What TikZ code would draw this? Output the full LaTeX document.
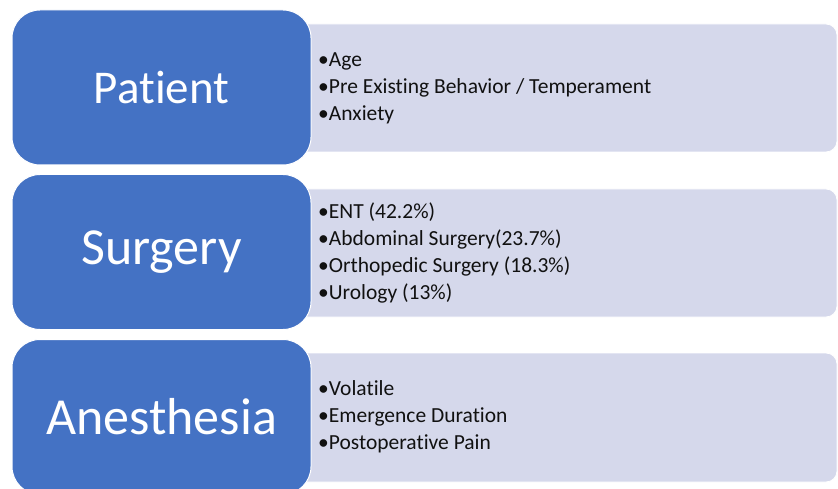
\documentclass[tikz,border=0pt]{standalone}
\usepackage{fontspec}
\setmainfont{Carlito}[Ligatures=NoCommon]
\definecolor{bluefill}{HTML}{4472C4}
\definecolor{lightfill}{HTML}{D5D8EB}
\definecolor{txt}{HTML}{111111}
\begin{document}
\begin{tikzpicture}[x=1pt,y=-1pt,
  bluebox/.style={fill=bluefill,draw=white,line width=1pt,rounded corners=28pt,
    minimum width=299pt,minimum height=155pt,inner sep=0pt,text=white,
    font=\fontsize{52}{58}\selectfont},
  lightbox/.style={fill=lightfill,draw=white,line width=0.8pt,rounded corners=11pt},
  bullets/.style={anchor=west,align=left,text=txt,inner sep=0pt,
    font=\fontsize{21.5}{27}\selectfont}
]
\useasboundingbox (0,0) rectangle (838,489);
% light boxes
\path[lightbox] (250,24) rectangle (837,152);
\path[lightbox] (250,189) rectangle (837,317);
\path[lightbox] (250,353) rectangle (837,482);
% blue boxes
\node[bluebox,font=\fontsize{47}{54}\selectfont] (patient) at (161.5,87.5) {Patient};
\node[bluebox] (surgery) at (161.5,252) {Surgery};
\node[bluebox] (anesthesia) at (161.5,417) {Anesthesia};
% bullet lists
\node[bullets] (plist) at (318,88) {•Age\\•Pre Existing Behavior / Temperament\\•Anxiety};
\node[bullets] (slist) at (318,253) {•ENT (42.2\%)\\•Abdominal Surgery(23.7\%)\\•Orthopedic Surgery (18.3\%)\\•Urology (13\%)};
\node[bullets] (alist) at (318,417) {•Volatile\\•Emergence Duration\\•Postoperative Pain};
\end{tikzpicture}
\end{document}
